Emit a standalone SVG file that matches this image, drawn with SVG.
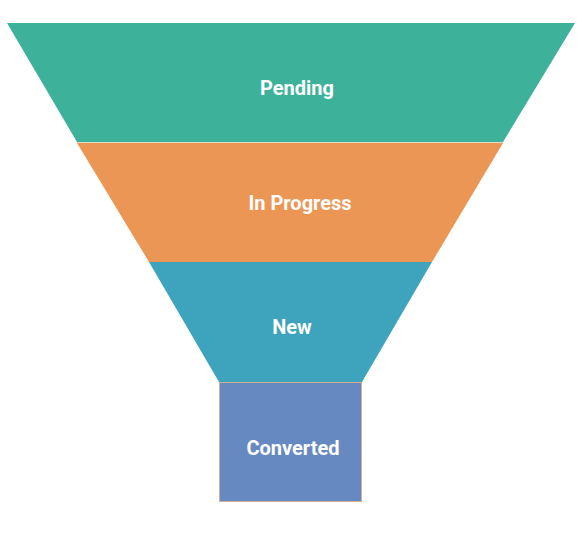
<svg xmlns="http://www.w3.org/2000/svg" width="582" height="547" viewBox="0 0 582 547">
<style>
.lbl{font-family:Roboto,"Liberation Sans",sans-serif;font-weight:bold;font-size:20px;fill:#ffffff;text-anchor:middle;dominant-baseline:central}
</style>
<rect width="582" height="547" fill="#ffffff"/>
<g id="pending">
<polygon points="7,23 575,23 503,142 77,142" fill="#3eb19b"/>
<text class="lbl" x="297" y="88">Pending</text>
</g>
<g id="in-progress">
<polygon points="77,143 503,143 432,262 149,262" fill="#eb9654"/>
<line x1="77" y1="142.5" x2="503" y2="142.5" stroke="#e3ddd0" stroke-width="1"/>
<text class="lbl" x="300" y="203">In Progress</text>
</g>
<g id="new">
<polygon points="149,262 432,262 362,382 219,382" fill="#3ea3bc"/>
<text class="lbl" x="292" y="327">New</text>
</g>
<g id="converted">
<rect x="219.5" y="382.5" width="142" height="119" fill="#6689c2" stroke="#d4ad94" stroke-width="1"/>
<text class="lbl" x="293" y="448">Converted</text>
</g>
<g id="connectors"/>
</svg>
